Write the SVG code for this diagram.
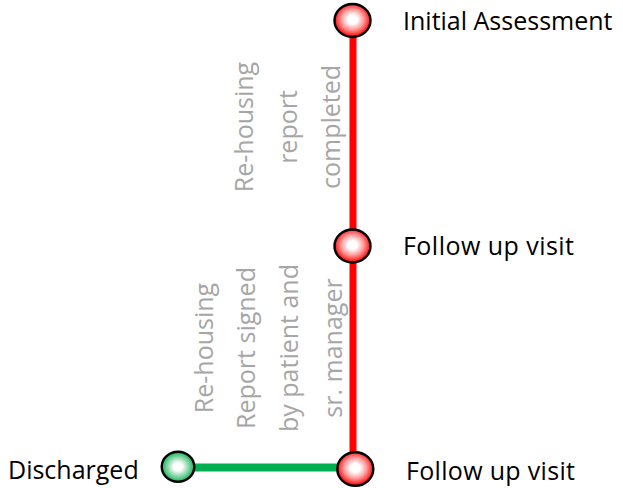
<svg xmlns="http://www.w3.org/2000/svg" width="623" height="488" viewBox="0 0 623 488">
<style>
.lbl{font-family:"Open Sans","Liberation Sans",sans-serif;font-size:25px;fill:#000}
.note{font-family:"Open Sans","Liberation Sans",sans-serif;font-size:25px;fill:#a6a6a6;text-anchor:middle}
.node{stroke:#000;stroke-width:2.4}
</style>
<defs>
<radialGradient id="gRed" cx="50%" cy="47%" r="52%">
<stop offset="0" stop-color="#ffffff"/>
<stop offset="0.25" stop-color="#ffffff"/>
<stop offset="0.6" stop-color="#ff9a9a"/>
<stop offset="1" stop-color="#ff0000"/>
</radialGradient>
<radialGradient id="gGreen" cx="50%" cy="50%" r="52%">
<stop offset="0" stop-color="#ffffff"/>
<stop offset="0.25" stop-color="#ffffff"/>
<stop offset="0.6" stop-color="#8fd8ac"/>
<stop offset="1" stop-color="#00b050"/>
</radialGradient>
</defs>
<g id="connectors">
<line x1="353" y1="35" x2="353" y2="454" stroke="#ff0000" stroke-width="7"/>
<line x1="192" y1="467.5" x2="340" y2="467.5" stroke="#00b050" stroke-width="8"/>
</g>
<g id="notes">
<text class="note" transform="translate(253.3,127) rotate(-90)">Re-housing</text>
<text class="note" transform="translate(296.5,127) rotate(-90)">report</text>
<text class="note" transform="translate(339.8,127) rotate(-90)">completed</text>
<text class="note" transform="translate(213.3,348) rotate(-90)">Re-housing</text>
<text class="note" transform="translate(255,348) rotate(-90)">Report signed</text>
<text class="note" transform="translate(298.3,348) rotate(-90)">by patient and</text>
<text class="note" transform="translate(341.7,348) rotate(-90)">sr. manager</text>
</g>
<g id="n1">
<ellipse class="node" cx="352.5" cy="20.5" rx="18" ry="16.5" fill="url(#gRed)"/>
<text class="lbl" x="403" y="29.5">Initial Assessment</text>
</g>
<g id="n2">
<ellipse class="node" cx="352.5" cy="246" rx="18" ry="16.5" fill="url(#gRed)"/>
<text class="lbl" x="403" y="254.5" textLength="171">Follow up visit</text>
</g>
<g id="n3">
<ellipse class="node" cx="355.3" cy="469" rx="18" ry="16.7" fill="url(#gRed)"/>
<text class="lbl" x="406" y="480" textLength="169">Follow up visit</text>
</g>
<g id="n4">
<ellipse class="node" cx="178" cy="466.7" rx="16.3" ry="15" fill="url(#gGreen)"/>
<text class="lbl" x="8" y="478.5">Discharged</text>
</g>
</svg>
